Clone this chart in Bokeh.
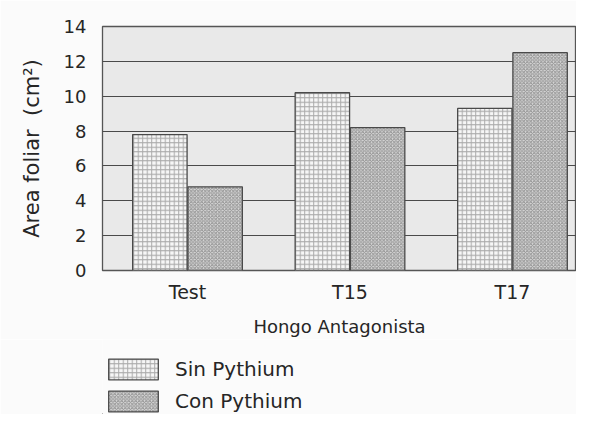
import numpy as np
from bokeh.plotting import figure
from bokeh.layouts import column
from bokeh.models import ColumnDataSource, Range1d, FixedTicker, Legend, LegendItem
from bokeh.embed import file_html
from bokeh.resources import INLINE

# ---- data ----
categories = ["Test", "T15", "T17"]
sin_pythium = [7.8, 10.2, 9.3]
con_pythium = [4.8, 8.2, 12.5]
y_ticks = [0, 2, 4, 6, 8, 10, 12, 14]
series_labels = ["Sin Pythium", "Con Pythium"]

FONT = "DejaVu Sans"
TXT = "#262626"
PAGE_BG = "#fbfbfb"

SIN_STYLE = dict(fill_color="#f6f6f6", line_color="#4a4a4a", line_width=1.3,
                 hatch_pattern="+", hatch_scale=4.5, hatch_color="#aaaaaa", hatch_weight=1)
CON_STYLE = dict(fill_color="#d8d8d8", line_color="#4a4a4a", line_width=1.3,
                 hatch_pattern="x", hatch_scale=3.5, hatch_color="#939393", hatch_weight=1)

xs = np.arange(len(categories))
src = ColumnDataSource(dict(
    x_sin=xs - 0.17, x_con=xs + 0.17,
    sin=sin_pythium, con=con_pythium,
))

p = figure(frame_width=474, frame_height=244, output_backend="svg", toolbar_location=None,
           x_range=Range1d(-0.523, 2.394), y_range=Range1d(0, 14),
           min_border_left=102, min_border_top=26, min_border_right=0,
           min_border_bottom=67)

p.background_fill_color = "#e9e9e9"
p.border_fill_color = PAGE_BG
p.outline_line_color = "#555555"
p.outline_line_width = 1.3

p.vbar(x="x_sin", top="sin", width=0.335, source=src, **SIN_STYLE)
p.vbar(x="x_con", top="con", width=0.335, source=src, **CON_STYLE)

# axes
p.xaxis.ticker = FixedTicker(ticks=list(xs))
p.xaxis.major_label_overrides = {int(i): c for i, c in zip(xs, categories)}
p.xaxis.axis_label = "Hongo Antagonista"
p.yaxis.ticker = FixedTicker(ticks=y_ticks)
p.yaxis.axis_label = "Area foliar\u00a0\u00a0(cm²)"

for ax in (p.xaxis, p.yaxis):
    ax.axis_line_color = None
    ax.major_tick_line_color = None
    ax.minor_tick_line_color = None
    ax.major_label_text_font = FONT
    ax.major_label_text_color = TXT
    ax.axis_label_text_font = FONT
    ax.axis_label_text_font_style = "normal"
    ax.axis_label_text_color = TXT

p.xaxis.major_label_text_font_size = "19px"
p.xaxis.axis_label_text_font_size = "18px"
p.xaxis.major_label_standoff = 4
p.xaxis.axis_label_standoff = 10
p.yaxis.major_label_text_font_size = "18px"
p.yaxis.axis_label_text_font_size = "21px"
p.yaxis.major_label_standoff = 10
p.yaxis.axis_label_standoff = 17

p.xgrid.grid_line_color = None
p.ygrid.grid_line_color = "#4a4a4a"
p.ygrid.grid_line_width = 1.2

# ---- legend strip below the chart (proxy bars lie outside its visible range) ----
leg = figure(width=576, height=75, output_backend="svg", toolbar_location=None,
             x_axis_location=None, y_axis_location=None,
             x_range=Range1d(100, 101), y_range=Range1d(100, 101),
             min_border=0)
leg.outline_line_color = None
leg.background_fill_color = PAGE_BG
leg.border_fill_color = PAGE_BG
leg.grid.grid_line_color = None
l_sin = leg.vbar(x="x_sin", top="sin", width=0.335, source=src, **SIN_STYLE)
l_con = leg.vbar(x="x_con", top="con", width=0.335, source=src, **CON_STYLE)

legend = Legend(items=[LegendItem(label=series_labels[0], renderers=[l_sin]),
                       LegendItem(label=series_labels[1], renderers=[l_con])],
                location=(0, 0), orientation="vertical",
                glyph_width=62, glyph_height=26, spacing=6, padding=0, margin=0,
                label_standoff=11, label_text_font=FONT, label_text_font_size="20px",
                label_text_color=TXT, border_line_color=None,
                background_fill_alpha=0)
leg.add_layout(legend, "center")

layout = column(p, leg, spacing=0)
open("out.html", "w").write(file_html(layout, INLINE))
